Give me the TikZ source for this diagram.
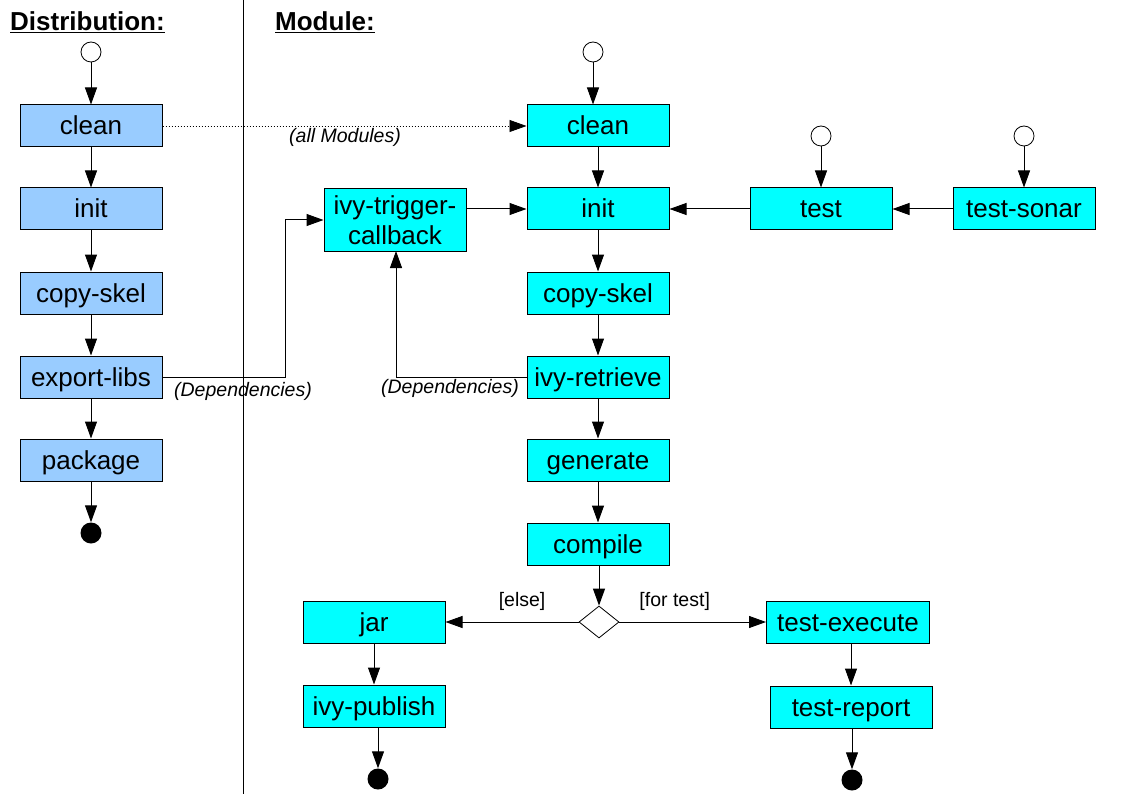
\documentclass[tikz,border=0pt]{standalone}
\usepackage{fontspec}
\setmainfont{Liberation Sans}
\usetikzlibrary{arrows.meta,shapes.geometric}
\definecolor{distblue}{HTML}{99CCFF}
\definecolor{modcyan}{HTML}{00FFFF}
\tikzset{>={Triangle[length=17pt,width=12pt]}}
\tikzset{
  task/.style={draw, line width=1pt, minimum width=142pt, minimum height=42pt,
    inner sep=0pt, font=\fontsize{26}{30}\selectfont, align=center,
    text height=23pt, text depth=5pt},
  disttask/.style={task, fill=distblue},
  modtask/.style={task, fill=modcyan},
  startnode/.style={circle, draw, line width=0.8pt, fill=white, minimum size=20pt, inner sep=0pt},
  endnode/.style={circle, fill=black, minimum size=21pt, inner sep=0pt},
  decision/.style={diamond, draw, line width=0.8pt, fill=white, minimum width=40pt,
    minimum height=32pt, inner sep=0pt, aspect=1.25},
  flow/.style={->, line width=1pt},
  note/.style={font=\fontsize{19.5}{22}\selectfont\itshape, inner sep=0pt},
  guard/.style={font=\fontsize{19.5}{22}\selectfont, inner sep=0pt},
  heading/.style={font=\fontsize{26}{30}\selectfont\bfseries, inner sep=0pt, anchor=west}
}
\begin{document}
\begin{tikzpicture}[x=1pt,y=-1pt]
      \useasboundingbox (0,0) rectangle (1123,794);
      % headings and separator
      \node[heading] (disthead) at (10,22) {\underline{Distribution:}};
      \node[heading] (modhead) at (275,22) {\underline{Module:}};
      \draw[line width=1pt] (243,0) -- (243,794);
      % distribution column
      \node[startnode] (dstart) at (91,52) {};
      \node[disttask] (dclean) at (91,126) {clean};
      \node[disttask] (dinit) at (91,209) {init};
      \node[disttask] (dcopy) at (91,293) {copy-skel};
      \node[disttask] (dexport) at (91,377) {export-libs};
      \node[disttask] (dpackage) at (91,460) {package};
      \node[endnode] (dend) at (91,533) {};
      \draw[flow] (dstart) -- (dclean);
      \draw[flow] (dclean) -- (dinit);
      \draw[flow] (dinit) -- (dcopy);
      \draw[flow] (dcopy) -- (dexport);
      \draw[flow] (dexport) -- (dpackage);
      \draw[flow] (dpackage) -- (dend);
      % module column
      \node[startnode] (mstart) at (593,52) {};
      \node[modtask] (mclean) at (598,126) {clean};
      \node[modtask] (minit) at (598,209) {init};
      \node[modtask] (mcopy) at (598,293) {copy-skel};
      \node[modtask] (mretrieve) at (598,377) {ivy-retrieve};
      \node[modtask] (mgenerate) at (598,460) {generate};
      \node[modtask] (mcompile) at (598,544) {compile};
      \node[decision] (mchoice) at (599,622) {};
      \node[modtask, minimum height=63pt, text height=, text depth=] (mtrigger) at (395,220) {ivy-trigger-\\callback};
      \node[modtask] (mtest) at (821,209) {test};
      \node[modtask] (msonar) at (1024,209) {test-sonar};
      \node[startnode] (tstart) at (821,136) {};
      \node[startnode] (sstart) at (1024,136) {};
      \node[modtask] (mjar) at (374,622) {jar};
      \node[modtask] (mpublish) at (374,706) {ivy-publish};
      \node[endnode] (pend) at (378,779) {};
      \node[modtask, minimum width=163pt] (mexecute) at (848,622) {test-execute};
      \node[modtask, minimum width=162pt] (mreport) at (851,707) {test-report};
      \node[endnode] (rend) at (852,780) {};
      \draw[flow] (mstart) -- (mstart |- mclean.north);
      \draw[flow] (mclean) -- (minit);
      \draw[flow] (minit) -- (mcopy);
      \draw[flow] (mcopy) -- (mretrieve);
      \draw[flow] (mretrieve) -- (mgenerate);
      \draw[flow] (mgenerate) -- (mcompile);
      \draw[flow] (mcompile.south -| mchoice) -- (mchoice.north);
      \draw[flow] (tstart) -- (mtest);
      \draw[flow] (sstart) -- (msonar);
      \draw[flow] (msonar) -- (mtest);
      \draw[flow] (mtest) -- (minit);
      \draw[flow] (mtrigger.east |- minit) -- (minit.west);
      \draw[flow] (mchoice.west) -- node[guard, above=11pt, xshift=10pt] {[else]} (mjar.east);
      \draw[flow] (mchoice.east) -- node[guard, above=11pt, xshift=-18pt] {[for test]} (mexecute.west);
      \draw[flow] (mjar) -- (mpublish);
      \draw[flow] (mpublish.south -| pend) -- (pend);
      \draw[flow] (mexecute.south -| mreport) -- (mreport.north);
      \draw[flow] (mreport.south -| rend) -- (rend);
      % dependencies between the two
      \draw[flow, line width=0.8pt, dash pattern=on 1.5pt off 1.5pt] (dclean) -- (mclean);
      \node[note] (allmods) at (345,137) {(all Modules)};
      \draw[flow] (dexport.east) -- (285,377) |- (mtrigger.west);
      \node[note] (dep1) at (243,391) {(Dependencies)};
      \draw[flow] (mretrieve.west) -| (396,251);
      \node[note] (dep2) at (450,388) {(Dependencies)};
    \end{tikzpicture}
\end{document}
